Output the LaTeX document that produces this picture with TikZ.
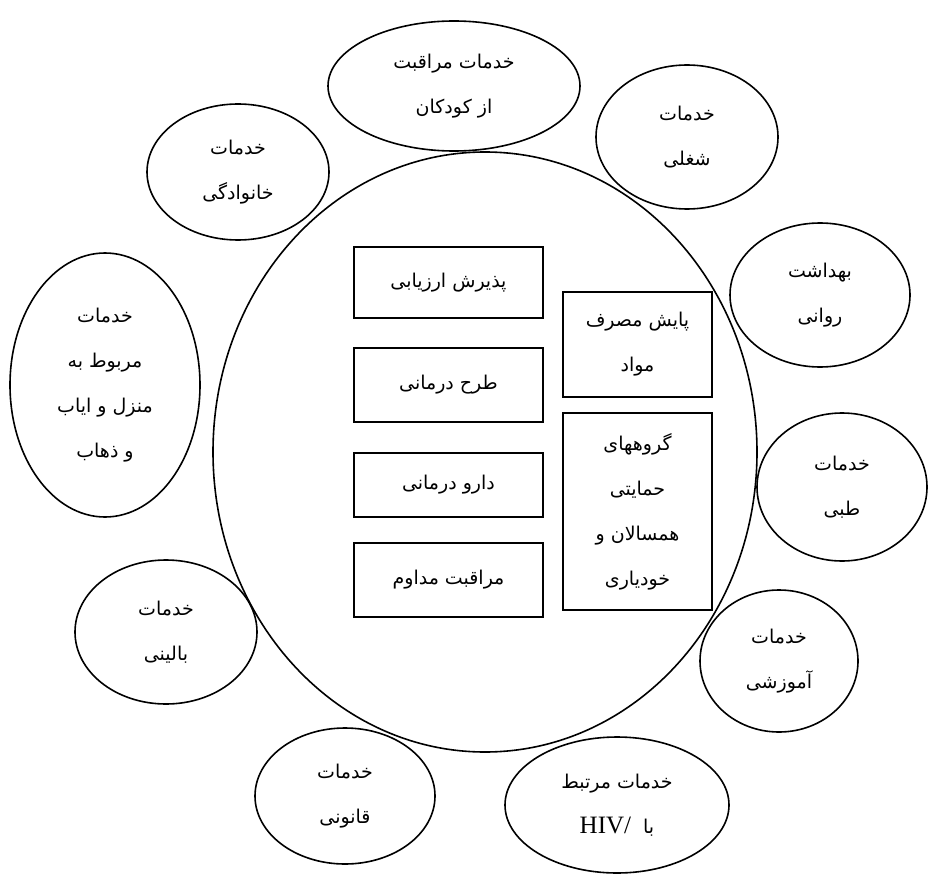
\documentclass[tikz,border=0pt]{standalone}
\usepackage{fontspec}
\usetikzlibrary{shapes.geometric}
\TeXXeTstate=1
\newfontfamily\arabicfont[Script=Arabic]{DejaVu Sans}
\newfontfamily\latinfont{Liberation Serif}
\newcommand\rl[1]{\beginR#1\endR}
\newcommand\txtfont{\arabicfont\fontsize{19}{45}\selectfont}
\begin{document}
\begin{tikzpicture}[x=1pt,y=-1pt,
  oval/.style={draw,line width=1.6pt,ellipse,inner sep=0pt,align=center,font=\txtfont},
  rbox/.style={draw,line width=1.6pt,rectangle,inner sep=0pt,align=center,font=\txtfont}]
\useasboundingbox (0,0) rectangle (928,877);
% central circle
\node[oval,minimum width=544pt,minimum height=600pt] (main) at (485,452) {};
% surrounding services
\node[oval,minimum width=252pt,minimum height=130pt] (kids) at (454,86) {\rl{خدمات مراقبت}\\\rl{از کودکان}};
\node[oval,minimum width=182pt,minimum height=144pt] (job) at (687,137) {\rl{خدمات}\\\rl{شغلی}};
\node[oval,minimum width=180pt,minimum height=144pt] (mental) at (820,295) {\rl{بهداشت}\\\rl{روانی}};
\node[oval,minimum width=170pt,minimum height=148pt] (medical) at (842,487) {\rl{خدمات}\\\rl{طبی}};
\node[oval,minimum width=158pt,minimum height=142pt] (edu) at (779,661) {\rl{خدمات}\\\rl{آموزشی}};
\node[oval,minimum width=224pt,minimum height=136pt] (hiv) at (617,805) {\rl{خدمات مرتبط}\\\rl{با\ \ \beginL{\latinfont\fontsize{25}{45}\selectfont HIV/}\endL}};
\node[oval,minimum width=180pt,minimum height=136pt] (legal) at (345,796) {\rl{خدمات}\\\rl{قانونی}};
\node[oval,minimum width=182pt,minimum height=144pt] (clinic) at (166,632) {\rl{خدمات}\\\rl{بالینی}};
\node[oval,minimum width=190pt,minimum height=264pt] (home) at (105,385) {\rl{خدمات}\\\rl{مربوط به}\\\rl{منزل و ایاب}\\\rl{و ذهاب}};
\node[oval,minimum width=182pt,minimum height=136pt] (family) at (238,172) {\rl{خدمات}\\\rl{خانوادگی}};
% inner boxes
\node[rbox,minimum width=189pt,minimum height=71pt] (intake) at (448.5,282.5) {\rl{پذیرش ارزیابی}};
\node[rbox,minimum width=189pt,minimum height=74pt] (plan) at (448.5,385) {\rl{طرح درمانی}};
\node[rbox,minimum width=189pt,minimum height=64pt] (drug) at (448.5,485) {\rl{دارو درمانی}};
\node[rbox,minimum width=189pt,minimum height=74pt] (care) at (448.5,580) {\rl{مراقبت مداوم}};
\node[rbox,minimum width=149pt,minimum height=105pt] (monitor) at (637.5,344.5) {\rl{پایش مصرف}\\\rl{مواد}};
\node[rbox,minimum width=149pt,minimum height=197pt] (groups) at (637.5,511.5) {\rl{گروههای}\\\rl{حمایتی}\\\rl{همسالان و}\\\rl{خودیاری}};
\end{tikzpicture}
\end{document}
